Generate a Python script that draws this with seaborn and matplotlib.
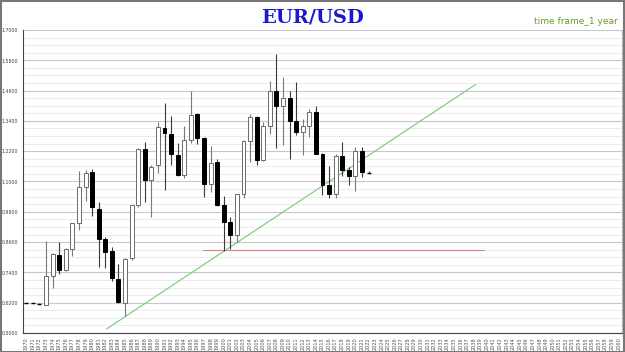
import matplotlib
matplotlib.use("Agg")
import matplotlib.pyplot as plt
import seaborn as sns
import numpy as np
import pandas as pd

# yearly EUR/USD candles
years = list(range(1970, 2023))
opens = [0.618, 0.618, 0.616, 0.612, 0.724, 0.810, 0.748, 0.834, 0.935, 1.078,
         1.136, 0.991, 0.872, 0.823, 0.714, 0.619, 0.797, 1.005, 1.229, 1.107,
         1.166, 1.311, 1.287, 1.206, 1.126, 1.265, 1.367, 1.272, 1.091, 1.179,
         1.007, 0.939, 0.890, 1.049, 1.260, 1.355, 1.185, 1.320, 1.459, 1.397,
         1.432, 1.338, 1.296, 1.319, 1.374, 1.210, 1.086, 1.052, 1.201, 1.147,
         1.121, 1.221, 1.137]
highs = [0.618, 0.618, 0.619, 0.863, 0.818, 0.859, 0.835, 0.937, 1.142, 1.146,
         1.149, 1.017, 0.880, 0.840, 0.773, 0.797, 1.007, 1.232, 1.256, 1.166,
         1.337, 1.412, 1.360, 1.252, 1.318, 1.459, 1.370, 1.275, 1.241, 1.191,
         1.041, 0.959, 1.050, 1.265, 1.367, 1.358, 1.337, 1.497, 1.604, 1.514,
         1.458, 1.494, 1.349, 1.389, 1.399, 1.211, 1.162, 1.209, 1.256, 1.157,
         1.235, 1.235, 1.141]
lows = [0.618, 0.618, 0.613, 0.612, 0.678, 0.735, 0.745, 0.806, 0.909, 1.021,
        0.965, 0.761, 0.757, 0.704, 0.619, 0.567, 0.790, 1.000, 1.017, 0.961,
        1.133, 1.067, 1.166, 1.122, 1.113, 1.252, 1.248, 1.038, 1.060, 1.002,
        0.823, 0.834, 0.859, 1.034, 1.176, 1.164, 1.183, 1.287, 1.233, 1.246,
        1.188, 1.286, 1.204, 1.275, 1.210, 1.046, 1.034, 1.034, 1.122, 1.088,
        1.064, 1.119, 1.132]
closes = [0.618, 0.618, 0.616, 0.724, 0.813, 0.748, 0.832, 0.935, 1.078, 1.133,
          0.999, 0.872, 0.822, 0.718, 0.621, 0.795, 1.005, 1.229, 1.107, 1.159,
          1.315, 1.291, 1.209, 1.126, 1.265, 1.364, 1.272, 1.090, 1.175, 1.007,
          0.939, 0.890, 1.049, 1.260, 1.355, 1.185, 1.320, 1.459, 1.397, 1.432,
          1.338, 1.296, 1.319, 1.374, 1.210, 1.086, 1.052, 1.201, 1.147, 1.121,
          1.221, 1.137, 1.135]

# drawn lines
trend_x = [1982.2, 2038.3]
trend_y = [0.516, 1.485]
support_x = [1996.85, 2039.5]
support_y = [0.827, 0.827]

axis_years = list(range(1970, 2061))

df = pd.DataFrame({"year": years, "open": opens, "high": highs,
                   "low": lows, "close": closes})
df["up"] = df["close"] >= df["open"]

sns.set_style("white")
plt.rcParams["font.family"] = ["DejaVu Sans"]

fig = plt.figure(figsize=(6.25, 3.52), dpi=100)
ax = fig.add_axes([0.0368, 0.054, 0.9584, 0.8608])

w = 0.6
for _, r in df.iterrows():
    col = "#7a7a7a" if r["up"] else "#3a3a3a"
    ax.vlines(r["year"], r["low"], r["high"], color=col, lw=0.8, zorder=2)
    lo = min(r["open"], r["close"])
    h = abs(r["close"] - r["open"])
    if h < 0.004:
        ax.hlines(r["close"], r["year"] - w / 2, r["year"] + w / 2,
                  color="black", lw=1.0, zorder=3)
    else:
        ax.bar(r["year"], h, bottom=lo, width=w,
               color="white" if r["up"] else "black",
               edgecolor="#6a6a6a" if r["up"] else "black",
               linewidth=0.7, zorder=3)

sns.lineplot(x=trend_x, y=trend_y, ax=ax, color="#77c777", lw=0.8, zorder=1)
sns.lineplot(x=support_x, y=support_y, ax=ax, color="#d98080", lw=0.8, zorder=1)

ax.set_xlim(1969.5, 2060.5)
ax.set_ylim(0.5, 1.7)
ax.set_yticks(np.arange(0.5, 1.701, 0.12))
ax.set_yticks(np.arange(0.5, 1.701, 0.03), minor=True)
ax.set_yticklabels([f"{v:.4f}".replace(".", ",") for v in np.arange(0.5, 1.701, 0.12)])
ax.set_xticks(axis_years)
ax.set_xticklabels([str(y) for y in axis_years], rotation=90)
ax.grid(axis="y", which="major", color="#c8c8c8", lw=0.8, zorder=0)
ax.grid(axis="y", which="minor", color="#e8e8e8", lw=0.6, zorder=0)
ax.grid(axis="x", visible=False)
ax.tick_params(axis="y", which="major", labelsize=3.4, length=2.5, width=0.6,
               colors="#444444", pad=0.8)
ax.tick_params(axis="y", which="minor", length=1.5, width=0.4, color="#444444")
ax.tick_params(axis="x", labelsize=3.6, length=2, width=0.4,
               colors="#555555", pad=1)
ax.set_xlabel("")
ax.set_ylabel("")
for s in ["left", "bottom"]:
    ax.spines[s].set_color("#444444")
    ax.spines[s].set_linewidth(0.8)
ax.spines["right"].set_color("#bbbbbb")
ax.spines["top"].set_visible(False)

fig.text(0.5, 0.95, "EUR/USD", ha="center", va="center", fontsize=14,
         fontweight="bold", family="DejaVu Serif", color="#1a1acc")
fig.text(0.988, 0.94, "time frame_1 year", ha="right", va="center",
         fontsize=6.5, color="#6a9a2a")

border = plt.Rectangle((0.001, 0.001), 0.997, 0.996, transform=fig.transFigure,
                       fill=False, edgecolor="#777777", lw=1.5)
fig.patches.append(border)

fig.savefig("out.png", dpi=100)
